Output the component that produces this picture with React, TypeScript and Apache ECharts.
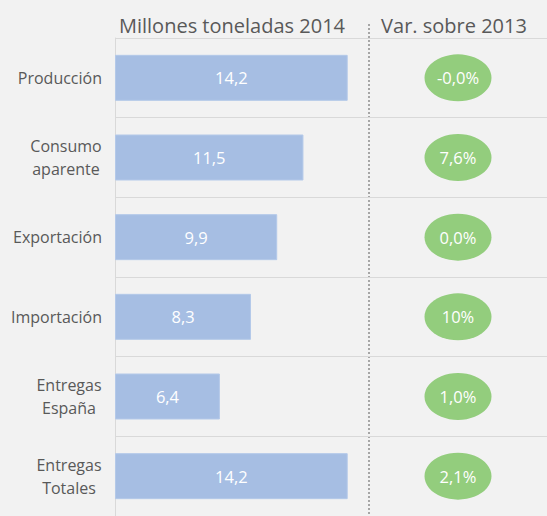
import React, { useEffect, useRef } from "react";
import * as echarts from "echarts";

const categories = [
  "Producción",
  "Consumo\naparente",
  "Exportación",
  "Importación",
  "Entregas\nEspaña",
  "Entregas\nTotales",
];
const volumes2014 = [14.2, 11.5, 9.9, 8.3, 6.4, 14.2];
const variation2013 = [-0.0, 7.6, 0.0, 10, 1.0, 2.1];
const variationLabels = ["-0,0%", "7,6%", "0,0%", "10%", "1,0%", "2,1%"];
const leftTitle = "Millones toneladas 2014";
const rightTitle = "Var. sobre 2013";
const varCategory = ["var"];

const FONT = '"Open Sans", "Noto Sans", sans-serif';
const LABEL_SIZE = 16;

function measure(t: string, font: string): number {
  const c = document.createElement("canvas").getContext("2d");
  if (!c) return t.length * 8;
  c.font = font;
  return c.measureText(t).width;
}

export default function App() {
  const ref = useRef<HTMLDivElement>(null);
  useEffect(() => {
    if (!ref.current) return;
    const chart = echarts.init(ref.current, null, { renderer: "svg" });
    const font = `${LABEL_SIZE}px ${FONT}`;
    const rich: Record<string, any> = {};
    categories.forEach((c, i) => {
      const lines = c.split("\n");
      const w = Math.ceil(Math.max(...lines.map((l) => measure(l, font))));
      rich["c" + i] = {
        width: w,
        align: "center",
        fontSize: LABEL_SIZE,
        fontFamily: FONT,
        color: "#595959",
        lineHeight: 23,
      };
    });

    chart.setOption({
      animation: false,
      backgroundColor: "#f2f2f2",
      title: [
        {
          text: leftTitle,
          left: 227,
          top: 10,
          textAlign: "center",
          textStyle: { fontFamily: FONT, fontSize: 20, fontWeight: "normal", color: "#595959" },
        },
        {
          text: rightTitle,
          left: 449,
          top: 10,
          textAlign: "center",
          textStyle: { fontFamily: FONT, fontSize: 20, fontWeight: "normal", color: "#595959" },
        },
      ],
      grid: [
        { left: 115, right: 178, top: 38, bottom: 0 },
        { left: 369, right: 0, top: 38, bottom: 0 },
      ],
      xAxis: [
        { type: "value", gridIndex: 0, min: 0, max: 15.5, show: false },
        { type: "category", gridIndex: 1, data: varCategory, show: false },
      ],
      yAxis: [
        {
          type: "category",
          gridIndex: 0,
          data: categories,
          inverse: true,
          axisLine: { show: true, lineStyle: { color: "#d9d9d9", width: 1 } },
          axisTick: { show: false },
          splitLine: { show: true, lineStyle: { color: "#d9d9d9", width: 1 } },
          axisLabel: {
            margin: 13,
            formatter: (v: string) => {
              const i = categories.indexOf(v);
              const lines = v.split("\n");
              if (lines.length === 1) return v;
              return lines.map((l) => `{c${i}|${l}}`).join("\n");
            },
            rich,
            fontSize: LABEL_SIZE,
            fontFamily: FONT,
            color: "#595959",
            lineHeight: 23,
          },
        },
        {
          type: "category",
          gridIndex: 1,
          data: categories,
          inverse: true,
          axisLine: { show: false },
          axisTick: { show: false },
          axisLabel: { show: false },
          splitLine: { show: true, lineStyle: { color: "#d9d9d9", width: 1 } },
        },
      ],
      series: [
        {
          type: "bar",
          xAxisIndex: 0,
          yAxisIndex: 0,
          data: volumes2014,
          barWidth: 46,
          itemStyle: { color: "#a6bee3", borderColor: "#b4c9e9", borderWidth: 1 },
          label: {
            show: true,
            position: "inside",
            color: "#ffffff",
            fontFamily: FONT,
            fontSize: 16.5,
            formatter: (p: any) => p.value.toFixed(1).replace(".", ","),
          },
        },
        {
          type: "scatter",
          xAxisIndex: 1,
          yAxisIndex: 1,
          symbol: "circle",
          symbolSize: [67, 47],
          itemStyle: { color: "#93cd7d", opacity: 1 },
          data: variation2013.map((v, i) => ({
            value: [varCategory[0], categories[i], v],
            label: { formatter: variationLabels[i] },
          })),
          label: {
            show: true,
            position: "inside",
            color: "#ffffff",
            fontFamily: FONT,
            fontSize: 16.5,
          },
        },
      ],
      graphic: [
        {
          type: "line",
          shape: { x1: 369, y1: 24, x2: 369, y2: 516 },
          style: { stroke: "#a6a6a6", lineWidth: 2, lineDash: [2, 2] },
          silent: true,
        },
      ],
    });
    return () => chart.dispose();
  }, []);
  return (
    <div
      ref={ref}
      style={{ position: "fixed", left: 0, top: 0, width: 547, height: 516 }}
    />
  );
}
